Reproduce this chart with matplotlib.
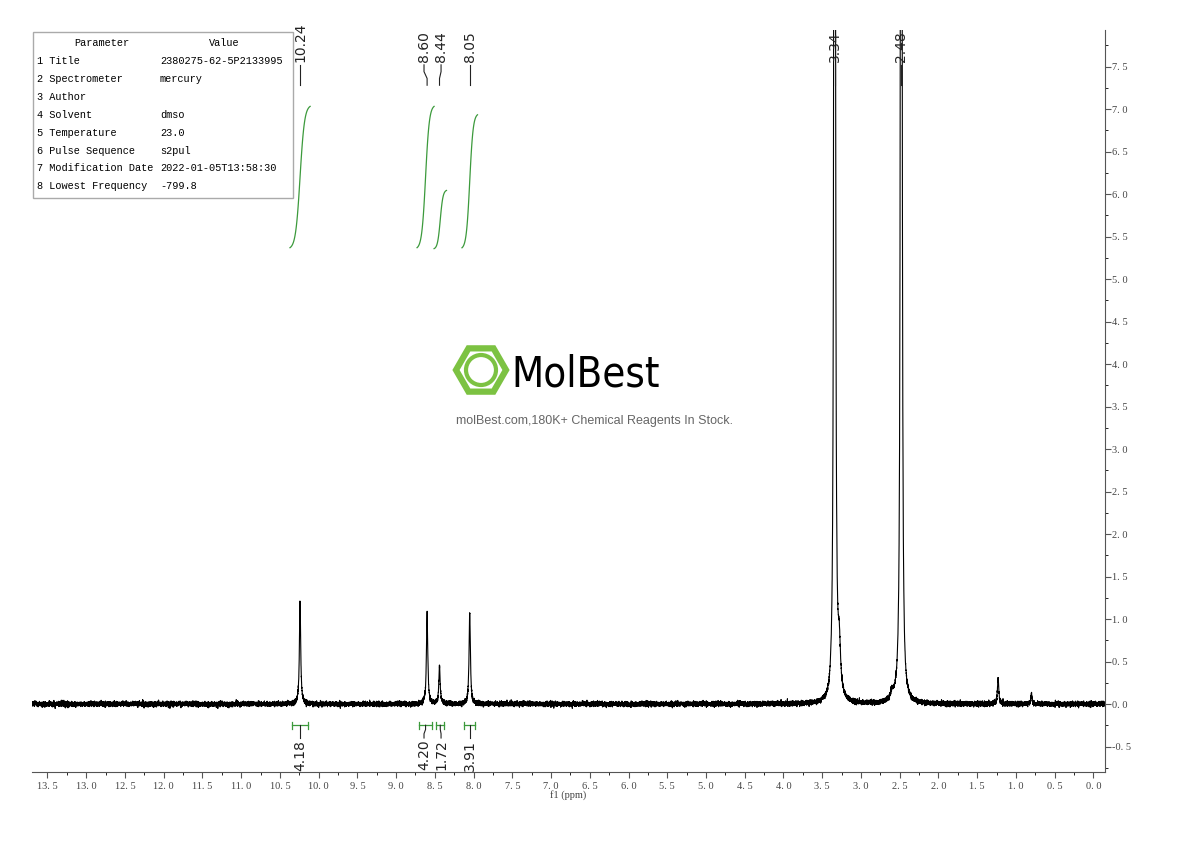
import numpy as np
import matplotlib
matplotlib.use("Agg")
import matplotlib.pyplot as plt
from matplotlib.patches import RegularPolygon, Circle

# ---- data ----
peak_ppm = [10.24, 8.60, 8.44, 8.05, 3.34, 3.28, 2.48, 2.60, 1.23, 0.80]
peak_height = [1.2, 1.08, 0.45, 1.08, 60.0, 0.55, 60.0, 0.1, 0.3, 0.12]
peak_width = [0.01, 0.01, 0.01, 0.01, 0.005, 0.02, 0.005, 0.02, 0.01, 0.008]
label_ppm = [10.24, 8.60, 8.44, 8.05, 3.34, 2.48]
label_pos = [10.24, 8.64, 8.42, 8.05, 3.34, 2.48]
label_text = ["10.24", "8.60", "8.44", "8.05", "3.34", "2.48"]
integ_ranges = [(10.34, 10.14), (8.70, 8.54), (8.48, 8.38), (8.12, 7.98)]
integ_top = [7.05, 7.05, 6.05, 6.95]
integ_values = ["4.18", "4.20", "1.72", "3.91"]
integ_label_pos = [10.24, 8.64, 8.42, 8.05]
params = [("1 Title", "2380275-62-5P2133995"), ("2 Spectrometer", "mercury"),
          ("3 Author", ""), ("4 Solvent", "dmso"), ("5 Temperature", "23.0"),
          ("6 Pulse Sequence", "s2pul"), ("7 Modification Date", "2022-01-05T13:58:30"),
          ("8 Lowest Frequency", "-799.8")]
xticks = np.arange(0, 13.51, 0.5)
yticks = np.arange(-0.5, 7.51, 0.5)

fig = plt.figure(figsize=(11.9, 8.41), dpi=100)
ax = fig.add_axes([32/1190, 1-772/841, (1105-32)/1190, (772-30)/841])
x = np.linspace(-0.2, 13.7, 20000)
y = np.zeros_like(x)
for p, h, w in zip(peak_ppm, peak_height, peak_width):
    y += h * w**2 / ((x - p)**2 + w**2)
rng = np.random.default_rng(3)
y += rng.normal(0, 0.014, x.size)
ax.plot(x, y, color="black", lw=0.8)
ax.set_xlim(13.7, -0.15)
ax.set_ylim(-0.8, 7.93)

for s in ["left", "top"]:
    ax.spines[s].set_visible(False)
ax.spines["right"].set_color("#555555")
ax.spines["bottom"].set_color("#555555")
ax.yaxis.tick_right()
ax.set_xticks(xticks)
ax.set_xticklabels([f"{v:.1f}".replace(".", ". ") for v in xticks])
ax.set_xticks(np.arange(0, 13.6, 0.25), minor=True)
ax.set_yticks(yticks)
ax.set_yticklabels([f"{v:.1f}".replace(".", ". ") for v in yticks])
ax.set_yticks(np.arange(-0.75, 7.8, 0.25), minor=True)
ax.tick_params(labelsize=7.5, colors="#555555", labelcolor="#444444", length=4)
ax.tick_params(which="minor", length=2.5)
for lab in ax.get_xticklabels() + ax.get_yticklabels():
    lab.set_family("Liberation Serif")
ax.tick_params(axis="y", pad=1)
ax.set_xlabel("f1 (ppm)", family="Liberation Serif", fontsize=7.5, color="#444444", labelpad=-1)

# peak labels
for p, lp, t in zip(label_ppm, label_pos, label_text):
    ax.plot([p, p, lp, lp], [7.28, 7.36, 7.44, 7.52], color="#222222", lw=0.8)
    ax.text(lp, 7.55, t, rotation=90, ha="center", va="bottom", fontsize=10, color="#222222")

# integrals
for (a, b), top, v, lp in zip(integ_ranges, integ_top, integ_values, integ_label_pos):
    xx = np.linspace(a, b, 100)
    t = (xx - a) / (b - a)
    curve = 5.35 + (top - 5.35) * (1 / (1 + np.exp(-(t - 0.5) * 9)))
    ax.plot(xx + np.linspace(0.03, -0.03, 100), curve, color="#3c9a3c", lw=0.9)
    ax.plot([a, b], [-0.25, -0.25], color="#3c9a3c", lw=0.9)
    ax.plot([a, a], [-0.21, -0.29], color="#3c9a3c", lw=0.9)
    ax.plot([b, b], [-0.21, -0.29], color="#3c9a3c", lw=0.9)
    ax.plot([(a+b)/2, (a+b)/2, lp, lp], [-0.25, -0.3, -0.35, -0.4], color="#222222", lw=0.8)
    ax.text(lp, -0.42, v, rotation=90, ha="center", va="top", fontsize=10, color="#222222")

# parameter table
fig.patches.append(plt.Rectangle((33/1190, 1-198/841), 260/1190, 166/841, transform=fig.transFigure,
                                 fill=False, edgecolor="#aaaaaa", lw=1))
fs = 7.4
fam = "Liberation Mono"
fig.text(102/1190, 1-43/841, "Parameter", family=fam, fontsize=fs, ha="center", va="center")
fig.text(224/1190, 1-43/841, "Value", family=fam, fontsize=fs, ha="center", va="center")
for i, (k, v) in enumerate(params):
    yy = 1 - (61 + i*17.9)/841
    fig.text(37/1190, yy, k, family=fam, fontsize=fs, va="center")
    fig.text(160/1190, yy, v, family=fam, fontsize=fs, va="center")

# watermark
cx, cy = 481/100, (841-370)/100
fig.patches.append(RegularPolygon((cx, cy), 6, radius=0.25, orientation=np.pi/2,
                                  transform=fig.dpi_scale_trans, fill=False, edgecolor="#7cc242", lw=4.5))
fig.patches.append(Circle((cx, cy), 0.15, transform=fig.dpi_scale_trans, fill=False,
                          edgecolor="#7cc242", lw=3))
fig.text(586/1190, 1-375/841, "MolBest", fontsize=30, ha="center", va="center",
         family="DejaVu Sans", fontstretch="condensed")
fig.text(594/1190, 1-421/841, "molBest.com,180K+ Chemical Reagents In Stock.", fontsize=9,
         ha="center", va="center", color="#666666", family="Liberation Sans")

fig.savefig("out.png", dpi=100)
